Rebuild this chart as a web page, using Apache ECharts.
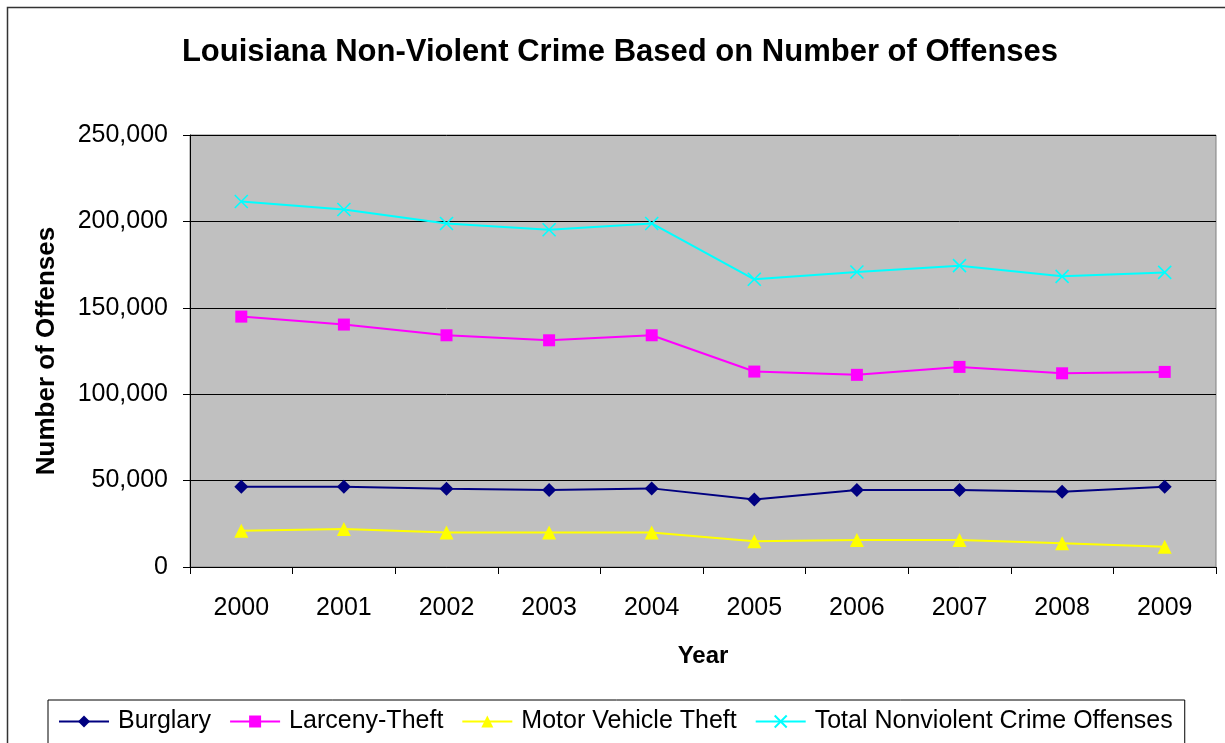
<!DOCTYPE html>
<html>
<head>
<meta charset="utf-8">
<title>Louisiana Non-Violent Crime</title>
<script src="https://cdn.jsdelivr.net/npm/echarts@6/dist/echarts.min.js"></script>
<style>
  html, body { margin: 0; padding: 0; background: #fff; }
  #chart { width: 1225px; height: 743px; }
</style>
</head>
<body>
<div id="chart"></div>
<script>
// Offense counts by year, Louisiana
const years = ['2000', '2001', '2002', '2003', '2004', '2005', '2006', '2007', '2008', '2009'];
const burglary = [46400, 46400, 45300, 44500, 45500, 39100, 44500, 44500, 43500, 46400];
const larcenyTheft = [144900, 140300, 134100, 131200, 134100, 113100, 111200, 115800, 112100, 112900];
const motorVehicleTheft = [21000, 22000, 20000, 20000, 20000, 14900, 15600, 15600, 13700, 11700];
const totalNonviolent = [211500, 206900, 198800, 195200, 198800, 166500, 170700, 174400, 168200, 170500];
const seriesNames = ['Burglary', 'Larceny-Theft', 'Motor Vehicle Theft', 'Total Nonviolent Crime Offenses'];

const FONT = 'Arial, "Liberation Sans", sans-serif';
const withCommas = v => String(v).replace(/\B(?=(\d{3})+(?!\d))/g, ',');

function lineSeries(name, data, color, symbol, size, extraItem) {
  return {
    name: name,
    type: 'line',
    data: data,
    symbol: symbol,
    symbolSize: size,
    lineStyle: { color: color, width: 2 },
    itemStyle: Object.assign({ color: color }, extraItem || {}),
    emphasis: { disabled: true },
    animation: false
  };
}

const chart = echarts.init(document.getElementById('chart'));
chart.setOption({
  backgroundColor: '#ffffff',
  textStyle: { fontFamily: FONT },
  graphic: [{
    type: 'rect',
    shape: { x: 7.5, y: 7.5, width: 1300, height: 800 },
    style: { fill: 'none', stroke: '#333', lineWidth: 1.5 },
    z: -10
  }],
  title: {
    text: 'Louisiana Non-Violent Crime Based on Number of Offenses',
    left: 620,
    top: 37,
    padding: 0,
    textAlign: 'center',
    textStyle: { fontFamily: FONT, fontSize: 31, fontWeight: 'bold', color: '#000' }
  },
  grid: {
    left: 190, right: 9, top: 135, height: 432,
    show: true,
    backgroundColor: '#C0C0C0',
    borderColor: '#808080',
    borderWidth: 1
  },
  xAxis: {
    type: 'category',
    data: years,
    boundaryGap: true,
    name: 'Year',
    nameLocation: 'middle',
    nameGap: 77,
    nameTextStyle: { fontFamily: FONT, fontSize: 24, fontWeight: 'bold', color: '#000' },
    axisLine: { lineStyle: { color: '#000', width: 1 } },
    axisTick: { show: true, length: 7, inside: false, alignWithLabel: false, lineStyle: { color: '#000' } },
    axisLabel: { fontFamily: FONT, fontSize: 25, color: '#000', margin: 29 },
    splitLine: { show: false }
  },
  yAxis: {
    type: 'value',
    min: 0,
    max: 250000,
    interval: 50000,
    name: 'Number of Offenses',
    nameLocation: 'middle',
    nameGap: 130,
    nameTextStyle: { fontFamily: FONT, fontSize: 26, fontWeight: 'bold', color: '#000' },
    axisLine: { show: true, lineStyle: { color: '#000', width: 1 } },
    axisTick: { show: true, length: 7, lineStyle: { color: '#000' } },
    axisLabel: { fontFamily: FONT, fontSize: 25, color: '#000', margin: 22, formatter: withCommas },
    splitLine: { show: true, lineStyle: { color: '#000', width: 1 } }
  },
  legend: {
    data: seriesNames,
    left: 48,
    top: 700,
    padding: [9, 12, 40, 10],
    itemGap: 18,
    itemWidth: 50,
    itemHeight: 15,
    borderColor: '#000',
    borderWidth: 1,
    backgroundColor: '#fff',
    textStyle: { fontFamily: FONT, fontSize: 25, color: '#000', padding: [0, 0, 0, 4] }
  },
  series: [
    lineSeries(seriesNames[0], burglary, '#000080', 'diamond', 14),
    lineSeries(seriesNames[1], larcenyTheft, '#FF00FF', 'rect', 12),
    lineSeries(seriesNames[2], motorVehicleTheft, '#FFFF00', 'triangle', 14),
    lineSeries(seriesNames[3], totalNonviolent, '#00FFFF', 'path://M0,0L10,10M10,0L0,10', 13,
      { borderColor: '#00FFFF', borderWidth: 1.6 })
  ]
});
</script>
</body>
</html>
